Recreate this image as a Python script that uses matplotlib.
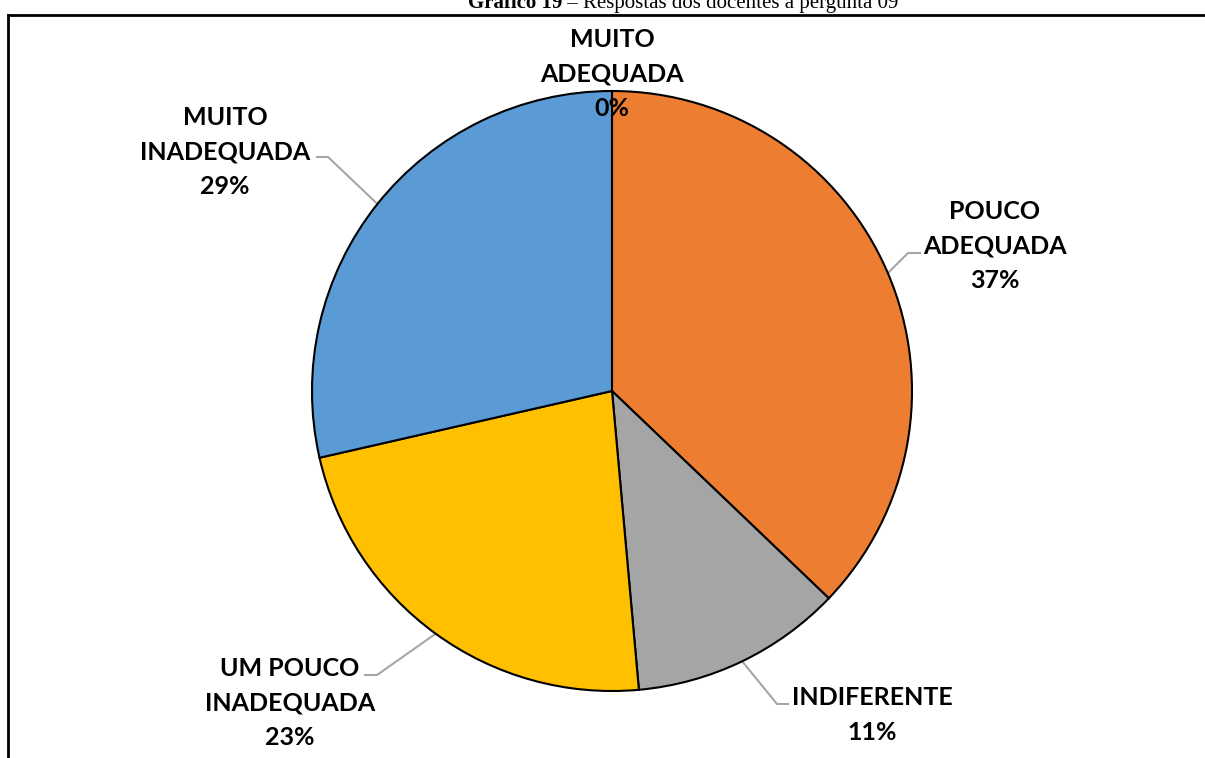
import matplotlib
matplotlib.use("Agg")
import matplotlib.pyplot as plt
import numpy as np

categories = ['MUITO\nADEQUADA', 'POUCO\nADEQUADA', 'INDIFERENTE',
              'UM POUCO\nINADEQUADA', 'MUITO\nINADEQUADA']
counts = [0, 13, 4, 8, 10]
colors = ['#4472C4', '#ED7D31', '#A5A5A5', '#FFC000', '#5B9BD5']

# label centres and leader elbows in pixel coords (y down, from top)
label_pos = [(612, 74), (995, 246), (872, 715), (290, 703), (225, 152)]
elbows = [None, [(908, 253), (920, 253)], [(777, 704), (788, 704)],
          [(377, 675), (365, 675)], [(328, 157), (317, 157)]]

W, H = 1205, 758
fig = plt.figure(figsize=(W / 100, H / 100), dpi=100)
ax = fig.add_axes([0, 0, 1, 1])

cx, cy, r = 612, H - 391, 300
wedges, _ = ax.pie(counts, colors=colors, startangle=90, counterclock=False,
                   center=(cx, cy), radius=r, frame=True,
                   wedgeprops=dict(edgecolor='black', linewidth=1.5))
ax.set_xlim(0, W)
ax.set_ylim(0, H)
ax.set_aspect('equal')
ax.axis('off')

total = sum(counts)
font = dict(family=['Lato', 'DejaVu Sans'], fontweight='bold', fontsize=18)
for w, lab, v, (lx, ly), elb in zip(wedges, categories, counts, label_pos, elbows):
    pct = f'{round(100 * v / total)}%'
    ax.text(lx, H - ly, f'{lab}\n{pct}', ha='center', va='center',
            linespacing=1.62, color='black', **font)
    if elb is not None and v > 0:
        mid = np.deg2rad((w.theta1 + w.theta2) / 2)
        px, py = cx + r * np.cos(mid), cy + r * np.sin(mid)
        xs = [px] + [e[0] for e in elb]
        ys = [py] + [H - e[1] for e in elb]
        ax.plot(xs, ys, color='#A6A6A6', linewidth=1.5, zorder=0.5)

# frame lines (top and left)
ax.plot([8, W], [H - 15, H - 15], color='black', linewidth=2, clip_on=False)
ax.plot([8, 8], [H - 15, 0], color='black', linewidth=2, clip_on=False)

# title, partially cut at the top
renderer = fig.canvas.get_renderer()
tfont = dict(family=['Liberation Serif', 'DejaVu Serif'], fontsize=15)
t1 = fig.text(0, 0, 'Gráfico 19', fontweight='bold', **tfont)
t2 = fig.text(0, 0, ' – Respostas dos docentes à pergunta 09', **tfont)
w1 = t1.get_window_extent(renderer).width
w2 = t2.get_window_extent(renderer).width
x0 = 683 - (w1 + w2) / 2
base = (H - 8) / H
t1.set_position((x0 / W, base))
t1.set_va('baseline')
t2.set_position(((x0 + w1) / W, base))
t2.set_va('baseline')

fig.savefig('out.png', dpi=100)
